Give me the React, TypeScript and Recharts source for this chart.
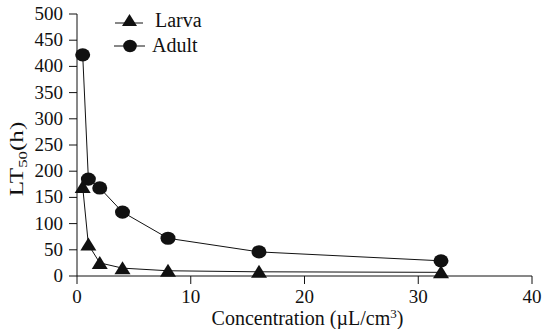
import React from 'react';
import { LineChart, Line, XAxis, YAxis, Label } from 'recharts';

// concentration (µL/cm3) and LT50 in hours
const concentrations = [0.5, 1, 2, 4, 8, 16, 32];
const larvaLT50 = [170, 60, 25, 15, 10, 8, 7];
const adultLT50 = [422, 185, 168, 122, 72, 46, 29];
const xTicks = [0, 10, 20, 30, 40];
const yTicks = [0, 50, 100, 150, 200, 250, 300, 350, 400, 450, 500];

const data = concentrations.map((c, i) => ({
  x: c,
  larva: larvaLT50[i],
  adult: adultLT50[i],
}));

const txt = { fontFamily: "'Liberation Serif'" };

const TriangleDot = (props: any) => {
  const { cx, cy } = props;
  if (cx == null || cy == null) return null;
  return <polygon points={`${cx - 8},${cy + 6} ${cx + 8},${cy + 6} ${cx},${cy - 7}`} fill="#111" />;
};

const CircleDot = (props: any) => {
  const { cx, cy } = props;
  if (cx == null || cy == null) return null;
  return <ellipse cx={cx} cy={cy} rx={7.5} ry={6.6} fill="#111" />;
};

const XTick = (props: any) => {
  const { x, y, payload } = props;
  return (
    <text x={x} y={y + 14} textAnchor="middle" fontSize={19} fill="#111" style={txt}>
      {payload.value}
    </text>
  );
};

const YTick = (props: any) => {
  const { x, y, payload } = props;
  return (
    <text x={x - 1} y={y + 6} textAnchor="end" fontSize={19} fill="#111" style={txt}>
      {payload.value}
    </text>
  );
};

const YLabel = (props: any) => {
  const { viewBox } = props;
  const y = viewBox.y + viewBox.height / 2 + 14;
  return (
    <text
      transform={`translate(23, ${y}) rotate(-90) scale(1.4, 1)`}
      x={0}
      y={0}
      textAnchor="middle"
      fontSize={18}
      fill="#111"
      style={txt}
    >
      LT<tspan fontSize={12} dy={4}>50</tspan><tspan dy={-4}>(h)</tspan>
    </text>
  );
};

const XLabel = (props: any) => {
  const { viewBox } = props;
  const x = viewBox.x + viewBox.width / 2 + 3;
  return (
    <text x={x} y={325} textAnchor="middle" fontSize={20} fill="#111" style={txt}>
      Concentration (µL/cm<tspan fontSize={13} dy={-7}>3</tspan><tspan dy={7}>)</tspan>
    </text>
  );
};

const App: React.FC = () => {
  return (
    <div style={{ position: 'absolute', left: 0, top: 0, width: 542, height: 329, background: '#fff' }}>
      <LineChart width={542} height={329} data={data} margin={{ top: 14, right: 10, bottom: 0, left: 0 }}>
        <XAxis
          dataKey="x"
          type="number"
          domain={[0, 40]}
          ticks={xTicks}
          interval={0}
          height={53}
          stroke="#111"
          tickSize={8}
          tickMargin={5}
          tick={<XTick />}
        >
          <Label content={<XLabel />} />
        </XAxis>
        <YAxis
          domain={[0, 500]}
          ticks={yTicks}
          interval={0}
          width={77}
          stroke="#111"
          tickSize={8}
          tickMargin={5}
          tick={<YTick />}
        >
          <Label content={<YLabel />} />
        </YAxis>
        <Line type="linear" dataKey="larva" stroke="#111" strokeWidth={1} dot={<TriangleDot />} isAnimationActive={false} />
        <Line type="linear" dataKey="adult" stroke="#111" strokeWidth={1} dot={<CircleDot />} isAnimationActive={false} />
      </LineChart>
      <svg width={220} height={60} style={{ position: 'absolute', left: 0, top: 0 }}>
        <line x1={115} y1={23} x2={143} y2={23} stroke="#111" strokeWidth={1} />
        <polygon points="122,26 137,26 129.5,14" fill="#111" />
        <text x={155} y={27} fontSize={20} fill="#111" style={txt}>Larva</text>
        <line x1={114} y1={46} x2={145} y2={46} stroke="#111" strokeWidth={1} />
        <ellipse cx={130} cy={46} rx={6.8} ry={6.2} fill="#111" />
        <text x={152} y={52} fontSize={20} fill="#111" style={txt}>Adult</text>
      </svg>
    </div>
  );
};

export default App;
